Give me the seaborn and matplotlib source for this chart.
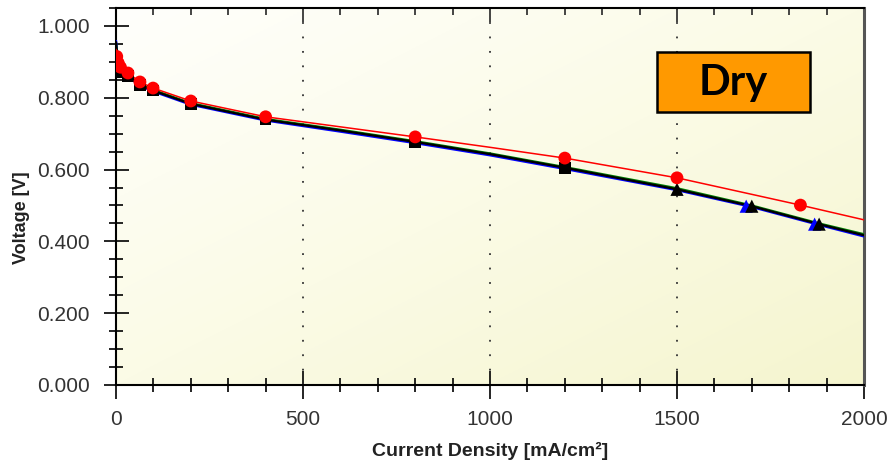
import numpy as np
import pandas as pd
import matplotlib
matplotlib.use("Agg")
import matplotlib.pyplot as plt
from matplotlib.colors import LinearSegmentedColormap
from matplotlib.patches import Rectangle
from matplotlib.ticker import MultipleLocator, FormatStrFormatter
import seaborn as sns

# ---------------- data ----------------
red_curve_x = [0, 5, 10, 20, 32, 64, 99, 200, 400, 600, 800, 1000, 1200, 1500, 1700, 1830, 2000]
red_curve_y = [0.935, 0.905, 0.892, 0.880, 0.869, 0.844, 0.827, 0.791, 0.747, 0.719, 0.691,
               0.662, 0.632, 0.577, 0.531, 0.501, 0.460]

curve_x = [0, 5, 10, 20, 32, 64, 99, 200, 400, 600, 800, 1000, 1200, 1500, 1700, 1880, 2000]
black_curve_y = [0.955, 0.900, 0.885, 0.873, 0.861, 0.836, 0.820, 0.783, 0.739, 0.709, 0.677,
                 0.643, 0.605, 0.545, 0.498, 0.448, 0.417]
blue_curve_y = [0.958, 0.900, 0.884, 0.871, 0.859, 0.834, 0.818, 0.781, 0.737, 0.706, 0.674,
                0.640, 0.602, 0.543, 0.496, 0.446, 0.414]
green_curve_y = [0.950, 0.900, 0.886, 0.875, 0.863, 0.838, 0.822, 0.785, 0.741, 0.711, 0.679,
                 0.645, 0.607, 0.548, 0.500, 0.450, 0.420]

red_pts_x = [2, 6, 12, 32, 64, 99, 200, 400, 800, 1200, 1500, 1830]
red_pts_y = [0.915, 0.897, 0.885, 0.869, 0.844, 0.827, 0.791, 0.747, 0.691, 0.632, 0.577, 0.501]

square_pts_x = [4, 32, 64, 99, 200, 400, 800, 1200]
square_pts_y = [0.872, 0.861, 0.836, 0.820, 0.783, 0.739, 0.677, 0.605]

black_tri_x = [1500, 1700, 1880]
black_tri_y = [0.545, 0.498, 0.448]

blue_tri_x = [1685, 1868]
blue_tri_y = [0.498, 0.448]

x_ticks = [0, 500, 1000, 1500, 2000]
y_ticks = [0.0, 0.2, 0.4, 0.6, 0.8, 1.0]
grid_x = [500, 1000, 1500]
label_text = "Dry"

# ---------------- style ----------------
sns.set_theme(style="white")
fam = ["Liberation Sans", "DejaVu Sans"]
plt.rcParams["font.family"] = fam

fig = plt.figure(figsize=(8.91, 4.70), dpi=100)
fig.patch.set_facecolor("white")
ax = fig.add_axes([116 / 891, 1 - 385 / 470, 748 / 891, 377 / 470])

# gradient background
cmap = LinearSegmentedColormap.from_list("bg", ["#fffffc", "#fbfbe6", "#f5f5cf"])
gx, gy = np.meshgrid(np.linspace(0, 1, 200), np.linspace(0, 1, 200))
grad = (gx + gy) / 2
ax.imshow(grad, cmap=cmap, extent=[0, 1, 0, 1], origin="upper", transform=ax.transAxes,
          aspect="auto", zorder=0, interpolation="bilinear")

for gxv in grid_x:
    ax.axvline(gxv, color="#333333", lw=1.3, ls=(0, (1, 7)), zorder=1)

df_blue = pd.DataFrame({"x": curve_x, "y": blue_curve_y})
df_green = pd.DataFrame({"x": curve_x, "y": green_curve_y})
df_black = pd.DataFrame({"x": curve_x, "y": black_curve_y})
df_red = pd.DataFrame({"x": red_curve_x, "y": red_curve_y})

sns.lineplot(data=df_blue, x="x", y="y", ax=ax, color="#0000ff", lw=1.8, sort=False, zorder=3)
sns.lineplot(data=df_green, x="x", y="y", ax=ax, color="#008000", lw=1.6, sort=False, zorder=3)
sns.lineplot(data=df_black, x="x", y="y", ax=ax, color="#000000", lw=1.6, sort=False, zorder=4)
sns.lineplot(data=df_red, x="x", y="y", ax=ax, color="#ff0000", lw=1.1, sort=False, zorder=5)

sns.scatterplot(x=square_pts_x, y=square_pts_y, ax=ax, marker="s", s=70, color="black",
                edgecolor="none", zorder=6)
sns.scatterplot(x=blue_tri_x, y=blue_tri_y, ax=ax, marker="^", s=90, color="#0000ff",
                edgecolor="none", zorder=6)
sns.scatterplot(x=black_tri_x, y=black_tri_y, ax=ax, marker="^", s=90, color="black",
                edgecolor="none", zorder=7)
sns.scatterplot(x=red_pts_x, y=red_pts_y, ax=ax, marker="o", s=85, color="#ff0000",
                edgecolor="none", zorder=8)

ax.set_xlim(0, 2000)
ax.set_ylim(0, 1.05)

ax.set_xticks(x_ticks)
ax.set_yticks(y_ticks)
ax.xaxis.set_minor_locator(MultipleLocator(100))
ax.yaxis.set_minor_locator(MultipleLocator(0.05))
ax.yaxis.set_major_formatter(FormatStrFormatter("%.3f"))

ax.tick_params(axis="x", which="major", direction="inout", length=20, width=1.2, color="black",
               labelsize=15, pad=8, bottom=True, top=False, labelcolor="#333333")
ax.tick_params(axis="x", which="minor", direction="inout", length=10, width=1.2, color="black",
               bottom=True, top=False)
ax.tick_params(axis="y", which="major", direction="inout", length=18, width=1.2, color="black",
               labelsize=15, pad=10, left=True, right=False, labelcolor="#333333")
ax.tick_params(axis="y", which="minor", direction="inout", length=10, width=1.2, color="black",
               left=True, right=False)

# top axis inward ticks
sec = ax.secondary_xaxis("top")
sec.set_xticks(x_ticks)
sec.xaxis.set_minor_locator(MultipleLocator(100))
sec.tick_params(axis="x", which="major", direction="in", length=10, width=1.2, labeltop=False)
sec.tick_params(axis="x", which="minor", direction="in", length=5, width=1.2)
sec.spines["top"].set_visible(False)

for side in ["left", "bottom", "top"]:
    ax.spines[side].set_color("black")
    ax.spines[side].set_linewidth(1.5)
ax.spines["right"].set_color("#555555")
ax.spines["right"].set_linewidth(2.2)

ax.set_xlabel("Current Density [mA/cm²]", fontsize=14, fontweight="bold", color="#222222")
ax.set_ylabel("Voltage [V]", fontsize=13, fontweight="bold", color="#222222")
ax.xaxis.set_label_coords(0.5, -0.152)
ax.yaxis.set_label_coords(-0.115, 0.443)

# "Dry" label box
ax.add_patch(Rectangle((0.723, 0.724), 0.205, 0.159, transform=ax.transAxes,
                       facecolor="#ff9900", edgecolor="black", lw=1.8, zorder=9))
ax.text(0.8255, 0.800, label_text, transform=ax.transAxes, ha="center", va="center",
        fontsize=30, fontweight="bold", family=["Lato", "DejaVu Sans"], color="black", zorder=10)

fig.savefig("out.png", dpi=100)
